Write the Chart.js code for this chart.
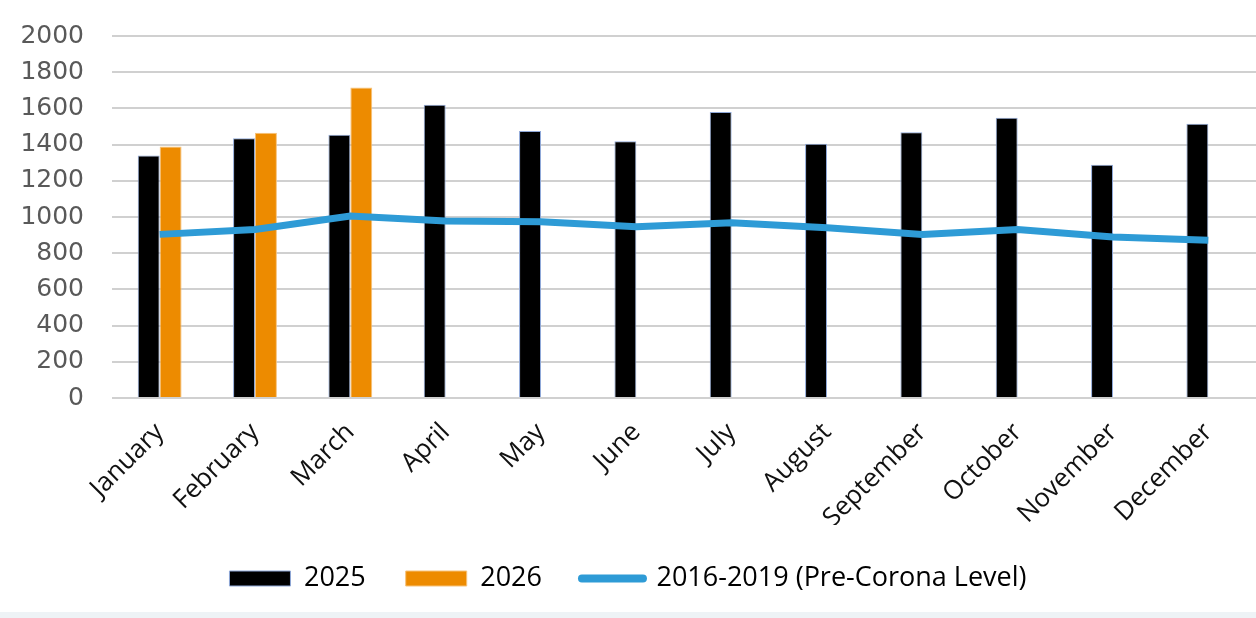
<!DOCTYPE html>
<html>
<head>
<meta charset="utf-8">
<script src="https://cdn.jsdelivr.net/npm/chart.js@4.4.1/dist/chart.umd.min.js"></script>
<style>
  html, body { margin: 0; padding: 0; background: #fff; }
  #wrap { width: 1256px; height: 612px; position: relative; }
  #strip { width: 1256px; height: 6px; background: #eef3f6; }
</style>
</head>
<body>
<div id="wrap"><canvas id="chart"></canvas></div>
<div id="strip"></div>
<script>
// ── Chart data ──
const months = ['January', 'February', 'March', 'April', 'May', 'June',
  'July', 'August', 'September', 'October', 'November', 'December'];
const values2025 = [1340, 1435, 1455, 1620, 1475, 1418, 1580, 1405, 1468, 1548, 1289, 1515];
const values2026 = [1390, 1465, 1715, null, null, null, null, null, null, null, null, null];
const preCorona = [904, 931, 1006, 978, 974, 946, 968, 941, 904, 931, 889, 872];
const yTicks = [0, 200, 400, 600, 800, 1000, 1200, 1400, 1600, 1800, 2000];

const BLACK = '#000000';
const ORANGE = '#ed8b00';
const BLUE = '#2e9bd6';

const ctx = document.getElementById('chart').getContext('2d');

new Chart(ctx, {
  data: {
    labels: months,
    datasets: [
      {
        type: 'line',
        label: '2016-2019 (Pre-Corona Level)',
        data: preCorona,
        borderColor: BLUE,
        backgroundColor: BLUE,
        borderWidth: 7,
        pointRadius: 0,
        tension: 0,
        order: 0,
      },
      {
        type: 'bar',
        label: '2025',
        data: values2025,
        backgroundColor: BLACK,
        borderColor: '#8fa8d8',
        borderWidth: 1,
        categoryPercentage: 0.46,
        barPercentage: 1,
        order: 1,
      },
      {
        type: 'bar',
        label: '2026',
        data: values2026,
        backgroundColor: ORANGE,
        borderColor: '#f6c27a',
        borderWidth: 1,
        categoryPercentage: 0.46,
        barPercentage: 1,
        order: 1,
      },
    ]
  },
  options: {
    responsive: true,
    maintainAspectRatio: false,
    animation: false,
    layout: { padding: { top: 36, right: 0, left: 0, bottom: 10 } },
    plugins: {
      tooltip: { enabled: false },
      legend: {
        position: 'bottom',
        labels: {
          font: { family: '"Open Sans", sans-serif', size: 27 },
          color: '#000',
          usePointStyle: true,
          pointStyleWidth: 61,
          boxHeight: 15,
          padding: 40,
          sort: (a, b) => a.datasetIndex === 0 ? 1 : b.datasetIndex === 0 ? -1 : a.datasetIndex - b.datasetIndex,
          generateLabels: chart => {
            const items = Chart.defaults.plugins.legend.labels.generateLabels(chart);
            items.forEach(it => {
              if (it.datasetIndex === 0) {
                it.pointStyle = 'line';
                it.lineWidth = 8;
                it.lineCap = 'round';
                it.strokeStyle = BLUE;
              } else {
                it.pointStyle = 'rect';
                it.lineWidth = 1;
              }
            });
            return items;
          }
        }
      }
    },
    scales: {
      x: {
        grid: { display: false },
        border: { display: false },
        ticks: {
          color: '#111',
          font: { family: '"Open Sans", sans-serif', size: 26 },
          maxRotation: 45,
          minRotation: 45,
          padding: 11,
        },
        afterFit: scale => { scale.height = 127; }
      },
      y: {
        min: 0,
        max: 2000,
        afterBuildTicks: scale => { scale.ticks = yTicks.map(v => ({ value: v })); },
        grid: { color: '#d0d0d0', lineWidth: 2, drawTicks: false },
        border: { display: false },
        ticks: {
          color: '#595959',
          font: { family: '"DejaVu Sans", sans-serif', size: 25 },
          padding: 28,
          callback: v => String(v),
        },
        afterFit: scale => { scale.width = 112; scale.paddingTop = 0; scale.paddingBottom = 0; }
      }
    }
  }
});
</script>
</body>
</html>
